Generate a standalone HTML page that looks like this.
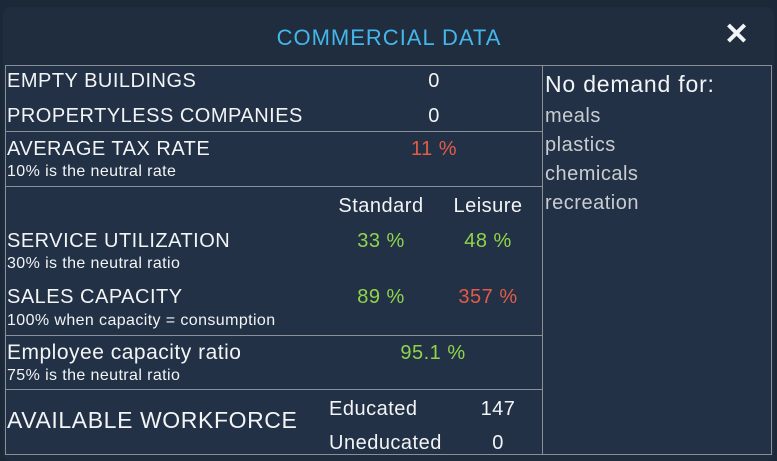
<!DOCTYPE html>
<html><head><meta charset="utf-8"><style>
body{margin:0;width:777px;height:461px;overflow:hidden;background:#1b2838;font-family:"Liberation Sans",sans-serif;}
#panel{position:absolute;left:3px;top:7px;width:771px;height:454px;background:#1f2d3e;border-radius:8px;}
.t{position:absolute;line-height:1;white-space:nowrap;color:#f2f4f6;letter-spacing:0.5px}
.c{transform:translateX(-50%);}
.s{font-size:16px;letter-spacing:0.4px}
.ln{position:absolute;background:#8a9098;}
.g{color:#8fd44c}.r{color:#e25c48}
</style></head><body>
<div id="panel"></div>
<div style="position:absolute;left:5px;top:65px;width:767px;height:390px;border:1px solid #8a9098;background:#223145;box-sizing:border-box"></div>
<div class="ln" style="left:542px;top:65px;width:1px;height:390px"></div>
<div class="ln" style="left:5px;top:131px;width:537px;height:1px"></div>
<div class="ln" style="left:5px;top:186px;width:537px;height:1px"></div>
<div class="ln" style="left:5px;top:335px;width:537px;height:1px"></div>
<div class="ln" style="left:5px;top:389px;width:537px;height:1px"></div>

<div class="t c" style="left:389px;top:27px;font-size:22px;color:#45b6ea;letter-spacing:1px">COMMERCIAL DATA</div>
<div class="t" style="left:724px;top:20px;font-size:30px;font-weight:bold">✕</div>

<div class="t" style="left:7px;top:71px;font-size:20px">EMPTY BUILDINGS</div>
<div class="t c" style="left:434px;top:71px;font-size:20px">0</div>
<div class="t" style="left:7px;top:106px;font-size:20px">PROPERTYLESS COMPANIES</div>
<div class="t c" style="left:434px;top:106px;font-size:20px">0</div>

<div class="t" style="left:7px;top:139px;font-size:20px">AVERAGE TAX RATE</div>
<div class="t c r" style="left:434px;top:139px;font-size:20px">11 %</div>
<div class="t s" style="left:7px;top:164px">10% is the neutral rate</div>

<div class="t c" style="left:381px;top:196px;font-size:20px">Standard</div>
<div class="t c" style="left:488px;top:196px;font-size:20px">Leisure</div>

<div class="t" style="left:7px;top:231px;font-size:20px">SERVICE UTILIZATION</div>
<div class="t c g" style="left:381px;top:231px;font-size:20px">33 %</div>
<div class="t c g" style="left:488px;top:231px;font-size:20px">48 %</div>
<div class="t s" style="left:7px;top:256px">30% is the neutral ratio</div>

<div class="t" style="left:7px;top:287px;font-size:20px">SALES CAPACITY</div>
<div class="t c g" style="left:381px;top:287px;font-size:20px">89 %</div>
<div class="t c r" style="left:488px;top:287px;font-size:20px">357 %</div>
<div class="t s" style="left:7px;top:313px">100% when capacity = consumption</div>

<div class="t" style="left:7px;top:342px;font-size:21px">Employee capacity ratio</div>
<div class="t c g" style="left:433px;top:343px;font-size:20px">95.1 %</div>
<div class="t s" style="left:7px;top:368px">75% is the neutral ratio</div>

<div class="t" style="left:7px;top:409px;font-size:23px;letter-spacing:0.6px">AVAILABLE WORKFORCE</div>
<div class="t" style="left:329px;top:399px;font-size:20px">Educated</div>
<div class="t c" style="left:498px;top:399px;font-size:20px">147</div>
<div class="t" style="left:329px;top:433px;font-size:20px">Uneducated</div>
<div class="t c" style="left:498px;top:433px;font-size:20px">0</div>

<div class="t" style="left:545px;top:73px;font-size:23px;letter-spacing:0.8px">No demand for:</div>
<div class="t" style="left:545px;top:106px;font-size:20px;color:#c9cdd2">meals</div>
<div class="t" style="left:545px;top:135px;font-size:20px;color:#c9cdd2">plastics</div>
<div class="t" style="left:545px;top:164px;font-size:20px;color:#c9cdd2">chemicals</div>
<div class="t" style="left:545px;top:193px;font-size:20px;color:#c9cdd2">recreation</div>
</body></html>
